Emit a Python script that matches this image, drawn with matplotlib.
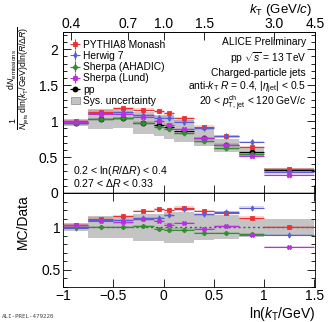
import matplotlib

matplotlib.use("Agg")
import matplotlib.pyplot as plt
import numpy as np
from matplotlib.patches import Patch
from matplotlib.ticker import MultipleLocator

plt.rcParams["font.family"] = ["Liberation Sans", "DejaVu Sans"]
plt.rcParams["mathtext.fontset"] = "custom"
plt.rcParams["mathtext.rm"] = "Liberation Sans"
plt.rcParams["mathtext.it"] = "Liberation Sans:italic"
plt.rcParams["mathtext.bf"] = "Liberation Sans:bold"

# bins in ln(kT/GeV)
edges = np.array([-1.0, -0.75, -0.5, -0.3, -0.1, 0.0, 0.1, 0.3, 0.5, 0.75, 1.0, 1.5])

# pp data and relative systematic uncertainty
data = [0.976, 1.03, 1.04, 0.97, 0.94, 0.92, 0.86, 0.77, 0.665, 0.57, 0.32]
sys_rel = [0.05, 0.13, 0.13, 0.16, 0.16, 0.18, 0.18, 0.15, 0.14, 0.11, 0.10]

# MC distributions (top panel)
pythia = [1.00, 1.13, 1.18, 1.16, 1.14, 1.11, 1.04, 0.92, 0.79, 0.64, 0.33]
herwig = [0.97, 1.11, 1.12, 1.08, 1.05, 1.05, 0.99, 0.90, 0.79, 0.71, 0.29]
ahadic = [0.98, 1.03, 1.04, 0.98, 0.92, 0.89, 0.83, 0.72, 0.62, 0.54, np.nan]
lund = [0.99, 1.10, 1.10, 1.06, 1.00, 0.95, 0.89, 0.76, 0.67, 0.52, 0.25]

# MC/Data ratios (bottom panel)
r_pythia = [1.02, 1.10, 1.13, 1.19, 1.21, 1.20, 1.23, 1.19, 1.17, 1.11, 1.00]
r_herwig = [0.99, 1.08, 1.085, 1.11, 1.11, 1.14, 1.21, 1.15, 1.18, 1.23, 0.91]
r_ahadic = [1.00, 1.00, 1.00, 1.01, 0.98, 0.97, 0.97, 0.93, 0.93, 0.92, np.nan]
r_lund = [1.02, 1.07, 1.055, 1.09, 1.07, 1.03, 1.05, 0.98, 1.01, 0.91, 0.77]

kt_ticks = [0.4, 0.7, 1.0, 1.5, 3.0, 4.5]

models = [
    ("PYTHIA8 Monash", pythia, r_pythia, "#f03030", "s", 2.8),
    ("Herwig 7", herwig, r_herwig, "#5c5cd6", "d", 3.0),
    ("Sherpa (AHADIC)", ahadic, r_ahadic, "#2f8f2f", "P", 3.4),
    ("Sherpa (Lund)", lund, r_lund, "#b830e0", "X", 3.4),
]

centers = 0.5 * (edges[1:] + edges[:-1])
widths = edges[1:] - edges[:-1]
data = np.array(data)
sys_rel = np.array(sys_rel)

W, H = 332, 322
fig = plt.figure(figsize=(W / 100, H / 100), dpi=100)
ax = fig.add_axes([63 / W, 1 - 193 / H, 252 / W, 161 / H])
axr = fig.add_axes([63 / W, 1 - 287 / H, 252 / W, 94 / H], sharex=ax)

xlim = (-1.0, 1.505)
gray = "#c4c4c4"

# --- top panel
ax.bar(centers, 2 * data * sys_rel, bottom=data * (1 - sys_rel), width=widths,
       color=gray, linewidth=0, zorder=1)
handles = []
for name, vals, _, col, mk, ms in models:
    vals = np.array(vals)
    ax.bar(centers, 0.04, bottom=vals - 0.02, width=widths, color=col,
           alpha=0.22, linewidth=0, zorder=2)
    h = ax.errorbar(centers, vals, xerr=widths / 2, yerr=0.02, fmt=mk, color=col,
                    ms=ms, mew=0.6, elinewidth=0.8, capsize=0, zorder=4)
    handles.append(h)
hd = ax.errorbar(centers, data, xerr=widths / 2, fmt="o", color="black", ms=3.2,
                 elinewidth=0.9, capsize=0, zorder=3)
handles.append(hd)
handles.append(Patch(facecolor=gray, edgecolor="#888888", linewidth=0.5))
labels = [m[0] for m in models] + ["pp", "Sys. uncertainty"]
ax.axhline(0, color="#aaaaaa", lw=1.2, zorder=0)

ax.set_xlim(*xlim)
ax.set_ylim(0, 2.24)
ax.yaxis.set_minor_locator(MultipleLocator(0.1))
ax.set_yticks([0, 0.5, 1, 1.5, 2])
ax.set_yticklabels(["0", "0.5", "1", "1.5", "2"])
ax.tick_params(which="both", direction="in", right=True, top=False, labelbottom=False,
               labelsize=10, width=0.6)
ax.tick_params(which="major", length=5.5)
ax.tick_params(which="minor", length=3)

leg = ax.legend(handles, labels, loc="upper left", bbox_to_anchor=(0.0, 1.0),
                frameon=False, fontsize=7.4, handlelength=0.9, handletextpad=0.3,
                labelspacing=0.12, borderaxespad=0.35)

tx = 0.965
ax.text(tx, 0.935, "ALICE Preliminary", transform=ax.transAxes, ha="right", va="center", fontsize=7.4)
ax.text(tx, 0.84, r"pp $\sqrt{s}$ = 13 TeV", transform=ax.transAxes, ha="right", va="center", fontsize=7.4)
ax.text(tx, 0.745, "Charged-particle jets", transform=ax.transAxes, ha="right", va="center", fontsize=7.4)
ax.text(tx, 0.655, r"anti-$k_{\mathrm{T}}$ $R$ = 0.4, $|\eta_{\mathrm{jet}}|$ < 0.5",
        transform=ax.transAxes, ha="right", va="center", fontsize=7.4)
ax.text(tx, 0.555, r"20 < $p_{\mathrm{T,\,jet}}^{\mathrm{ch}}$ < 120 GeV/$c$",
        transform=ax.transAxes, ha="right", va="center", fontsize=7.4)
ax.text(0.04, 0.135, r"0.2 < ln($R$/$\Delta R$) < 0.4", transform=ax.transAxes,
        ha="left", va="center", fontsize=7.6)
ax.text(0.04, 0.06, r"0.27 < $\Delta R$ < 0.33", transform=ax.transAxes,
        ha="left", va="center", fontsize=7.6)

# top kT axis
axt = ax.twiny()
axt.set_xlim(*xlim)
axt.set_xticks(np.log(kt_ticks))
axt.set_xticklabels([f"{k:.1f}" for k in kt_ticks])
axt.tick_params(direction="in", length=5.5, labelsize=10, width=0.6, pad=1.0)

# --- ratio panel
axr.bar(centers, 2 * sys_rel, bottom=1 - sys_rel, width=widths, color=gray,
        linewidth=0, zorder=1)
axr.axhline(1, color="#555555", lw=1.0, ls=(0, (1.5, 2)), zorder=2)
for name, _, rvals, col, mk, ms in models:
    rvals = np.array(rvals)
    axr.bar(centers, 0.03, bottom=rvals - 0.015, width=widths, color=col,
            alpha=0.22, linewidth=0, zorder=2)
    axr.errorbar(centers, rvals, xerr=widths / 2, yerr=0.015, fmt=mk, color=col,
                 ms=ms * 0.9, mew=0.6, elinewidth=0.8, capsize=0, zorder=4)

axr.set_ylim(0.3, 1.4)
axr.set_xlim(*xlim)
axr.set_yticks([0.5, 1])
axr.set_yticklabels(["0.5", "1"])
axr.yaxis.set_minor_locator(MultipleLocator(0.1))
axr.set_xticks([-1, -0.5, 0, 0.5, 1, 1.5])
axr.set_xticklabels(["\u22121", "\u22120.5", "0", "0.5", "1", "1.5"])
axr.tick_params(which="both", direction="in", right=True, top=True, labelsize=10,
                width=0.6, pad=1.5)
axr.tick_params(which="major", length=5.5)
axr.tick_params(which="minor", length=3)

for a in (ax, axr, axt):
    for s in a.spines.values():
        s.set_linewidth(0.6)

# axis titles
fig.text(19 / W, 1 - 26 / H,
         r"$\frac{1}{N_{\mathrm{jets}}}\frac{\mathrm{d}N_{\mathrm{emissions}}}"
         r"{\mathrm{d}\ln(k_{\mathrm{T}}/\mathrm{GeV})\mathrm{d}\ln(R/\Delta R)}$",
         rotation=90, ha="center", va="top", fontsize=9)
fig.text(23 / W, 1 - 222 / H, "MC/Data", rotation=90, ha="center", va="center", fontsize=10)
fig.text(315 / W, 1 - 314 / H, r"ln($k_{\mathrm{T}}$/GeV)", ha="right", va="center", fontsize=10)
fig.text(312 / W, 1 - 2 / H, r"$k_{\mathrm{T}}$ (GeV/$c$)", ha="right", va="top", fontsize=9.5)
fig.text(2 / W, 1 - 316 / H, "ALI-PREL-479220", ha="left", va="center", fontsize=4.2,
         family="DejaVu Sans Mono", color="#444444")

fig.savefig("out.png", dpi=100)
